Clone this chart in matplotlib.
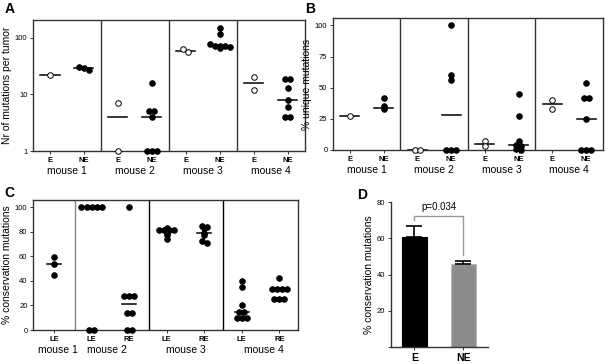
import numpy as np
import matplotlib.pyplot as plt
from matplotlib.ticker import FixedLocator, NullLocator

plt.rcParams['font.family'] = ['Liberation Sans', 'DejaVu Sans']

mice = ['mouse 1', 'mouse 2', 'mouse 3', 'mouse 4']
ab_labels = ['E', 'NE']

# panel A - mutations per tumor (log scale)
a_E = [[22], [7, 1], [55, 62], [20, 12]]
a_NE = [[30, 27, 29], [16, 5, 5, 4, 1, 1, 1], [150, 115, 77, 72, 70, 68, 65, 72], [19, 19, 13, 8, 6, 4, 4]]
a_E_mid = [22, 4, 58, 16]
a_NE_mid = [29, 4, 70, 8]

# panel B - % unique mutations
b_E = [[27], [0, 0], [7, 3], [40, 33]]
b_NE = [[42, 33, 35], [100, 60, 56, 0, 0, 0], [45, 27, 7, 4, 3, 1, 0], [54, 42, 42, 25, 0, 0, 0]]
b_E_mid = [27, 0, 5, 37]
b_NE_mid = [34, 28, 4, 25]

# panel C - % conservation mutations per lesion
c_labels = ['LE', 'LE', 'RE', 'LE', 'RE', 'LE', 'RE']
c_vals = [[59, 54, 45],
          [100, 100, 100, 100, 100, 0, 0],
          [100, 28, 28, 28, 14, 14, 0, 0],
          [83, 81, 81, 81, 81, 79, 77, 74],
          [85, 84, 83, 79, 77, 72, 71],
          [40, 35, 20, 15, 15, 10, 10, 10],
          [42, 33, 33, 33, 33, 25, 25, 25]]
c_mid = [54, 100, 21, 80, 79, 15, 33]

# panel D - mean conservation
d_labels = ['E', 'NE']
d_mean = [61, 45.6]
d_err = [5.8, 1.8]
d_p = 'p=0.034'

frame_col = '#333333'


def spread(vals, tol, step):
    # crude beeswarm: values closer than tol sit on one row, spaced sideways
    vals = np.asarray(vals, float)
    order = np.argsort(-vals, kind='stable')
    offs = np.zeros(len(vals))
    groups = []
    for i in order:
        if groups and vals[groups[-1][0]] - vals[i] < tol:
            groups[-1].append(i)
        else:
            groups.append([i])
    for g in groups:
        for k, i in enumerate(g):
            offs[i] = (k - (len(g) - 1) / 2) * step
    return offs


def dots(ax, x, vals, mid, filled, tol, step, half, logy=False):
    v = np.array(vals, float)
    key = np.log10(v) if logy else v
    off = spread(key, tol, step)
    ax.plot([x - half, x + half], [mid, mid], color='black', lw=1.1, zorder=2)
    ax.plot(x + off, v, 'o', ms=4.0, mfc='black' if filled else 'white',
            mec='black', mew=0.7, clip_on=False, zorder=3)


def style_frame(ax):
    for s in ax.spines.values():
        s.set_color(frame_col)
        s.set_linewidth(1.0)
    ax.tick_params(axis='both', length=2.5, width=0.7, pad=1.5, labelsize=5.5, colors=frame_col,
                   labelcolor='black')


fig = plt.figure(figsize=(6.08, 3.64), dpi=100)

# ---- A
axA = fig.add_axes([0.0543, 0.585, 0.447, 0.36])
for i in range(4):
    dots(axA, i + 0.25, a_E[i], a_E_mid[i], False, 0.06, 0.075, 0.14, logy=True)
    dots(axA, i + 0.75, a_NE[i], a_NE_mid[i], True, 0.06, 0.075, 0.14, logy=True)
axA.set_yscale('log')
axA.set_ylim(1, 205)
axA.yaxis.set_major_locator(FixedLocator([1, 10, 100]))
axA.yaxis.set_minor_locator(NullLocator())
axA.set_yticklabels(['1', '10', '100'])
axA.set_ylabel('Nr of mutations per tumor', fontsize=7.5, labelpad=2)

# ---- B
axB = fig.add_axes([0.5477, 0.588, 0.444, 0.3626])
for i in range(4):
    dots(axB, i + 0.25, b_E[i], b_E_mid[i], False, 2, 0.075, 0.14)
    dots(axB, i + 0.75, b_NE[i], b_NE_mid[i], True, 2, 0.075, 0.14)
axB.set_ylim(0, 106)
axB.set_yticks([0, 25, 50, 75, 100])
axB.set_ylabel('% unique mutations', fontsize=7.5, labelpad=2)

for ax in (axA, axB):
    ax.set_xlim(0, 4)
    xs = [i + d for i in range(4) for d in (0.25, 0.75)]
    ax.set_xticks(xs)
    ax.set_xticklabels(ab_labels * 4, fontweight='bold', fontsize=6)
    for d in (1, 2, 3):
        ax.axvline(d, color=frame_col, lw=1.0)
    for i, m in enumerate(mice):
        ax.text(i + 0.5, -0.155, m, transform=ax.get_xaxis_transform(),
                ha='center', va='center', fontsize=7.5)
    style_frame(ax)

# ---- C
axC = fig.add_axes([0.0543, 0.0934, 0.436, 0.357])
for i, vals in enumerate(c_vals):
    dots(axC, i, vals, c_mid[i], True, 2, 0.135, 0.19)
axC.set_xlim(-0.56, 6.5)
axC.set_ylim(0, 105.7)
axC.set_yticks([0, 20, 40, 60, 80, 100])
axC.set_xticks(range(len(c_labels)))
axC.set_xticklabels(c_labels, fontweight='bold', fontsize=6)
axC.axvline(0.55, color='#888888', lw=1.0)
for d in (2.53, 4.5):
    axC.axvline(d, color='black', lw=1.0)
for x, m in zip([0.1, 1.4, 3.5, 5.6], mice):
    axC.text(x, -0.155, m, transform=axC.get_xaxis_transform(),
             ha='center', va='center', fontsize=7.5)
axC.set_ylabel('% conservation mutations', fontsize=7.5, labelpad=2)
style_frame(axC)

# ---- D
axD = fig.add_axes([0.643, 0.0467, 0.1595, 0.398])
xd = np.arange(len(d_labels))
axD.bar(xd, d_mean, width=0.5, color=['black', '#8c8c8c'], edgecolor=['black', '#bbbbbb'], lw=0.8, zorder=2)
axD.errorbar(xd, d_mean, yerr=[[0, 0], d_err], fmt='none', ecolor='black', elinewidth=1.2,
             capsize=5.5, capthick=1.2, zorder=3)
br_top = 72.4
axD.plot([0, 0, 1, 1], [d_mean[0] + d_err[0] + 3.2, br_top, br_top, d_mean[1] + d_err[1] + 3.2],
         color='#999999', lw=1.0, clip_on=False)
axD.text(0.5, br_top + 2.3, d_p, ha='center', va='bottom', fontsize=7)
axD.set_xlim(-0.48, 1.5)
axD.set_ylim(0, 80)
axD.set_yticks([0, 20, 40, 60, 80])
axD.set_yticklabels(['', '20', '40', '60', '80'])
axD.set_xticks(xd)
axD.set_xticklabels(d_labels, fontweight='bold')
axD.spines['top'].set_visible(False)
axD.spines['right'].set_visible(False)
axD.set_ylabel('% conservation mutations', fontsize=7.5, labelpad=2)
style_frame(axD)
axD.tick_params(axis='x', labelsize=7.5)

for lbl, x, y in (('A', 0.008, 0.975), ('B', 0.502, 0.975), ('C', 0.008, 0.47), ('D', 0.587, 0.465)):
    fig.text(x, y, lbl, fontsize=10, fontweight='bold', ha='left', va='center')

fig.savefig('out.png', dpi=100)
